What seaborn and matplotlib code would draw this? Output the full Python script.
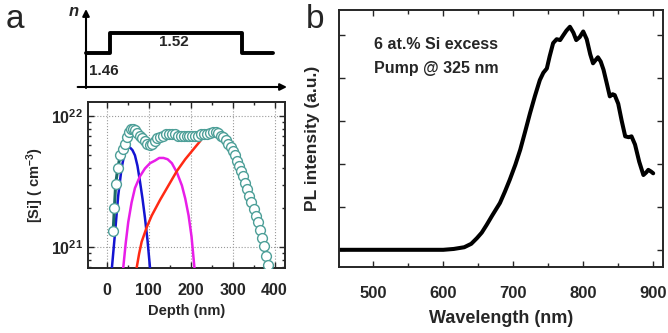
import numpy as np
import pandas as pd
import matplotlib
matplotlib.use("Agg")
import matplotlib.pyplot as plt
from matplotlib.ticker import FixedLocator, MultipleLocator, LogLocator, NullFormatter
import seaborn as sns

# ---------------------------------------------------------------- data
# panel a, top: refractive index step profile (depth in nm)
n_depth = [-50, 8, 8, 325, 325, 398]
n_index = [1.46, 1.46, 1.52, 1.52, 1.46, 1.46]

# panel a, bottom: total Si profile (open circles), log10 of [Si] in cm^-3
si_depth = [15, 18, 21, 26, 32, 38, 43, 48, 53, 58, 63, 68, 73, 78, 84, 90, 96,
            102, 108, 114, 120, 127, 134, 141, 148, 155, 162, 169, 176, 183, 190,
            197, 204, 211, 218, 225, 232, 239, 246, 253, 260, 266, 272, 278, 284,
            290, 295, 300, 305, 310, 315, 320, 325, 330, 335, 340, 345, 350, 355,
            360, 365, 370, 375, 380, 385]
si_log = [21.12, 21.30, 21.48, 21.60, 21.70, 21.75, 21.79, 21.84, 21.88, 21.90,
          21.90, 21.89, 21.87, 21.85, 21.83, 21.81, 21.79, 21.78, 21.79, 21.81,
          21.83, 21.84, 21.85, 21.86, 21.86, 21.86, 21.86, 21.85, 21.85, 21.85,
          21.85, 21.85, 21.85, 21.85, 21.85, 21.86, 21.86, 21.86, 21.87, 21.88,
          21.88, 21.87, 21.85, 21.84, 21.82, 21.79, 21.76, 21.73, 21.70, 21.66,
          21.62, 21.58, 21.54, 21.49, 21.44, 21.39, 21.34, 21.29, 21.24, 21.19,
          21.13, 21.07, 21.01, 20.93, 20.86]

# individual implant profiles
blue_depth = [12, 19, 27, 35, 43, 50, 55, 61, 67, 73, 79, 85, 91, 97, 103]
blue_log = [20.84, 21.09, 21.39, 21.60, 21.73, 21.76, 21.76, 21.74, 21.70, 21.62,
            21.50, 21.37, 21.22, 21.05, 20.84]
mag_depth = [39, 45, 51, 59, 67, 79, 91, 103, 115, 125, 135, 145, 155, 167, 179,
             187, 195, 202, 209]
mag_log = [20.84, 21.03, 21.19, 21.34, 21.45, 21.54, 21.60, 21.64, 21.66, 21.68,
           21.68, 21.67, 21.64, 21.57, 21.47, 21.37, 21.24, 21.08, 20.84]
red_depth = [71, 77, 83, 95, 107, 127, 147, 167, 187, 205, 223]
red_log = [20.84, 20.95, 21.04, 21.15, 21.24, 21.36, 21.47, 21.58, 21.67, 21.74,
           21.81]

# panel b: PL spectrum
wl = [450, 500, 550, 600, 615, 630, 640, 648, 655, 662, 670, 681, 688, 695, 703,
      710, 717, 724, 731, 738, 743, 748, 752, 757, 762, 767, 771, 776, 781, 786,
      790, 795, 800, 805, 810, 814, 818, 821, 825, 829, 834, 838, 842, 845, 850,
      855, 860, 865, 869, 874, 880, 886, 890, 893, 897, 900]
pl = [0.0, 0.0, 0.0, 0.0, 0.02, 0.06, 0.14, 0.27, 0.40, 0.58, 0.80, 1.09, 1.35,
      1.63, 1.98, 2.33, 2.75, 3.18, 3.58, 3.95, 4.12, 4.22, 4.50, 4.81, 4.90, 4.88,
      4.98, 5.10, 5.19, 5.05, 4.88, 4.95, 5.08, 4.90, 4.55, 4.34, 4.42, 4.48, 4.38,
      4.19, 3.85, 3.57, 3.62, 3.60, 3.40, 3.00, 2.64, 2.62, 2.64, 2.45, 2.05, 1.74,
      1.80, 1.86, 1.82, 1.78]

# ---------------------------------------------------------------- style
sns.set_style("ticks")
plt.rcParams['font.family'] = ['Liberation Sans', 'DejaVu Sans']
plt.rcParams['font.weight'] = 'bold'
plt.rcParams['axes.labelweight'] = 'bold'
plt.rcParams['mathtext.fontset'] = 'custom'
plt.rcParams['mathtext.rm'] = 'Liberation Sans:bold'
plt.rcParams['mathtext.bf'] = 'Liberation Sans:bold'
plt.rcParams['mathtext.it'] = 'Liberation Sans:bold:italic'
plt.rcParams['xtick.direction'] = 'in'
plt.rcParams['ytick.direction'] = 'in'

fig = plt.figure(figsize=(6.68, 3.33), dpi=100)

# ---------------------------------------------------------------- panel a top (schematic)
ax_n = fig.add_axes([76 / 668, 1 - 92 / 333, 216 / 668, 87 / 333])
ax_n.set_xlim(-74, 444)
ax_n.set_ylim(1.343, 1.604)
ax_n.axis('off')
sns.lineplot(x=n_depth, y=n_index, estimator=None, sort=False, color='black',
             lw=2.8, ax=ax_n)
ax_n.annotate('', xy=(-50, 1.592), xytext=(-50, 1.355),
              arrowprops=dict(arrowstyle='-|>', color='black', lw=1.5,
                              mutation_scale=10, shrinkA=0, shrinkB=0))
ax_n.annotate('', xy=(432, 1.358), xytext=(-70, 1.358),
              arrowprops=dict(arrowstyle='-|>', color='black', lw=1.5,
                              mutation_scale=10, shrinkA=0, shrinkB=0))
ax_n.text(160, 1.493, '1.52', ha='center', va='center', fontsize=11, fontweight='bold')
ax_n.text(-42, 1.405, '1.46', ha='left', va='center', fontsize=11, fontweight='bold')
ax_n.text(-68, 1.585, 'n', ha='right', va='center', fontsize=12,
          fontweight='bold', fontstyle='italic')

# ---------------------------------------------------------------- panel a bottom
ax_a = fig.add_axes([88 / 668, 1 - 268 / 333, 197 / 668, 166 / 333])
ax_a.set_yscale('log')
sns.lineplot(x=blue_depth, y=10 ** np.array(blue_log), color='#1414d2', lw=1.8,
             ax=ax_a, zorder=3)
sns.lineplot(x=mag_depth, y=10 ** np.array(mag_log), color='#e81ee8', lw=1.8,
             ax=ax_a, zorder=3)
sns.lineplot(x=red_depth, y=10 ** np.array(red_log), color='#ff2a14', lw=1.8,
             ax=ax_a, zorder=3)
sns.lineplot(x=si_depth, y=10 ** np.array(si_log), color='#1d6b68', lw=2.2,
             ax=ax_a, zorder=4)
sns.scatterplot(x=si_depth, y=10 ** np.array(si_log), s=50, facecolor='white',
                edgecolor='#4d9f98', linewidth=1.0, ax=ax_a, zorder=5)
ax_a.set_xlim(-45, 425)
ax_a.set_ylim(10 ** 20.84, 10 ** 22.107)
ax_a.xaxis.set_major_locator(FixedLocator([0, 100, 200, 300, 400]))
ax_a.xaxis.set_minor_locator(MultipleLocator(50))
ax_a.yaxis.set_major_locator(FixedLocator([1e21, 1e22]))
ax_a.yaxis.set_minor_locator(LogLocator(base=10, subs=np.arange(2, 10)))
ax_a.yaxis.set_minor_formatter(NullFormatter())
ax_a.set_yticklabels([r'$\mathbf{10^{21}}$', r'$\mathbf{10^{22}}$'])
ax_a.grid(True, which='major', color='#999999', ls=':', lw=0.8)
ax_a.tick_params(which='both', top=True, right=True, labelsize=11.5, width=1.0)
ax_a.tick_params(which='major', length=4)
ax_a.tick_params(which='minor', length=2)
ax_a.tick_params(axis='x', pad=11)
for sp in ax_a.spines.values():
    sp.set_linewidth(1.4)
ax_a.set_xlabel('Depth (nm)', fontsize=10.5, fontweight='bold', labelpad=4)
ax_a.set_ylabel(r'[Si] ( cm$^{-3}$)', fontsize=10.5, fontweight='bold', labelpad=4)

# ---------------------------------------------------------------- panel b
ax_b = fig.add_axes([339 / 668, 1 - 267 / 333, 324 / 668, 257 / 333])
sns.lineplot(x=wl, y=pl, color='black', lw=2.9, ax=ax_b)
ax_b.set_xlim(451, 914)
ax_b.set_ylim(-0.4, 5.58)
ax_b.xaxis.set_major_locator(FixedLocator([500, 600, 700, 800, 900]))
ax_b.xaxis.set_minor_locator(MultipleLocator(50))
ax_b.yaxis.set_major_locator(FixedLocator([0, 1, 2, 3, 4, 5]))
ax_b.set_yticklabels([])
ax_b.tick_params(which='both', top=True, right=True, labelsize=12, width=1.0)
ax_b.tick_params(which='major', length=4)
ax_b.tick_params(which='minor', length=3)
ax_b.tick_params(axis='x', pad=14)
for sp in ax_b.spines.values():
    sp.set_linewidth(1.4)
ax_b.set_xlabel('Wavelength (nm)', fontsize=13, fontweight='bold', labelpad=6)
ax_b.set_ylabel('PL intensity (a.u.)', fontsize=12.5, fontweight='bold', labelpad=10)
ax_b.text(0.108, 0.864, '6 at.% Si excess', transform=ax_b.transAxes,
          fontsize=11.5, fontweight='bold', va='center')
ax_b.text(0.108, 0.774, 'Pump @ 325 nm', transform=ax_b.transAxes,
          fontsize=11.5, fontweight='bold', va='center')

# panel letters
fig.text(6 / 668, 1 - 20 / 333, 'a', fontsize=24, fontweight='normal', va='center')
fig.text(306 / 668, 1 - 19 / 333, 'b', fontsize=24, fontweight='normal', va='center')

fig.savefig('out.png', dpi=100)
